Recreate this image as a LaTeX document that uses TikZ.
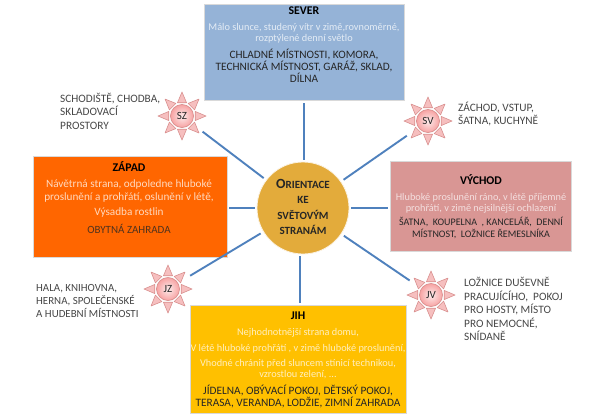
\documentclass[tikz,border=0pt]{standalone}
\usepackage{fontspec}
\setmainfont{Carlito}
\usetikzlibrary{calc}
\definecolor{conn}{HTML}{4F81BD}
\definecolor{raypink}{HTML}{F6BFBF}
\definecolor{rayline}{HTML}{D9908F}
\definecolor{sevfill}{HTML}{95B3D7}
\definecolor{zapfill}{HTML}{FF6600}
\definecolor{vycfill}{HTML}{D99694}
\definecolor{jihfill}{HTML}{FFC000}
\definecolor{cenfill}{HTML}{E3AB3B}
\definecolor{inktext}{HTML}{262626}
\tikzset{
  x=1pt,y=-1pt,
  dirbox/.style={rectangle,inner sep=0pt,draw=white!85!black,line width=.4pt,align=center,anchor=north west},
  sidelabel/.style={align=left,anchor=west,inner sep=0pt,text=inktext!85!white,font=\fontsize{11.3}{13.5}\selectfont},
  bodytext/.style={align=center,inner sep=0pt,font=\fontsize{10.3}{11}\selectfont},
  headtext/.style={align=center,inner sep=0pt,text=black,font=\fontsize{11.8}{12}\selectfont\bfseries},
  roomtext/.style={align=center,inner sep=0pt,text=inktext,font=\fontsize{11.3}{12}\selectfont},
  connector/.style={draw=conn,line width=1.9pt},
  sunray/.style={fill=raypink,draw=rayline,line width=.6pt,line join=round},
  suncore/.style={circle,minimum size=23pt,inner sep=0pt,draw=rayline,line width=.7pt,inner color=white!70!raypink,outer color=raypink!85!red,text=inktext,font=\fontsize{11}{12}\selectfont},
}
\newcommand{\sunat}[3]{%
  \foreach \a in {0,45,...,315}{\draw[sunray] ($(#2)+(\a-19:14)$) -- ($(#2)+(\a:24)$) -- ($(#2)+(\a+19:14)$) -- cycle;}
  \node[suncore] (#1) at (#2) {#3};}
\begin{document}
\begin{tikzpicture}
\path[use as bounding box,fill=white] (0,0) rectangle (600,416);
% boxes
\node[dirbox,fill=sevfill,minimum width=200pt,minimum height=96pt] (sever) at (204,4) {};
\node[dirbox,fill=zapfill,minimum width=194pt,minimum height=101pt] (zapad) at (33,156) {};
\node[dirbox,fill=vycfill,minimum width=181pt,minimum height=90pt] (vychod) at (390,161) {};
\node[dirbox,fill=jihfill,minimum width=216pt,minimum height=108pt] (jih) at (190,305) {};
% centre
\node[circle,minimum size=92pt,inner sep=0pt,fill=cenfill,draw=white!85!cenfill,line width=.8pt] (centre) at (303,208) {};
\node[align=center,inner sep=0pt,text=inktext,font=\fontsize{11}{15.6}\selectfont\bfseries] (centretext) at (303,207) {{\fontsize{14}{15.6}\selectfont O}RIENTACE\\KE\\SVĚTOVÝM\\STRANÁM};
% suns
\sunat{sz}{182,116}{SZ}
\sunat{sv}{428,121}{SV}
\sunat{jz}{168,289}{JZ}
\sunat{jv}{431,295}{JV}
% connectors
\draw[connector,shorten <=2pt,shorten >=3pt] (centre.north -| sever.south) -- (sever.south);
\draw[connector,shorten <=2pt,shorten >=2pt] (centre.west) -- (zapad.east |- centre.west);
\draw[connector,shorten <=2pt,shorten >=2pt] (centre.east) -- (vychod.west |- centre.east);
\draw[connector,shorten <=2pt,shorten >=2pt] ([xshift=2pt]centre.south -| jih.north) -- ([xshift=2pt]jih.north);
\draw[connector,shorten <=3pt,shorten >=14pt] (centre) -- (sz);
\draw[connector,shorten <=3pt,shorten >=14pt] (centre) -- (sv);
\draw[connector,shorten <=3pt,shorten >=14pt] (centre) -- (jz);
\draw[connector,shorten <=3pt,shorten >=14pt] (centre) -- (jv);
% SEVER text
\node[headtext] (t1) at (304,11) {SEVER};
\node[bodytext,text=white!75!sevfill] (t2) at (304,33.5) {Málo slunce, studený vítr v zimě,rovnoměrné,\\rozptýlené denní světlo};
\node[roomtext] (t3) at (304,66) {CHLADNÉ MÍSTNOSTI, KOMORA,\\TECHNICKÁ MÍSTNOST, GARÁŽ, SKLAD,\\DÍLNA};
% ZAPAD text
\node[headtext] (t4) at (129,167) {ZÁPAD};
\node[bodytext,text=white!75!zapfill,font=\fontsize{11.2}{12.3}\selectfont] (t5) at (129,191) {Návětrná strana, odpoledne hluboké\\proslunění a prohřátí, oslunění v létě,};
\node[bodytext,text=white!75!zapfill,font=\fontsize{11.2}{12.3}\selectfont] (t6) at (129,213) {Výsadba rostlin};
\node[roomtext,text=inktext!80!zapfill,font=\fontsize{11}{12}\selectfont] (t7) at (129,229) {OBYTNÁ ZAHRADA};
% VYCHOD text
\node[headtext] (t8) at (481,180) {VÝCHOD};
\node[bodytext,text=white!70!vycfill] (t9) at (481,203) {Hluboké proslunění ráno, v létě příjemné\\prohřátí, v zimě nejsilnější ochlazení};
\node[roomtext,font=\fontsize{10}{11.3}\selectfont] (t10) at (481,228) {ŠATNA,\ \ KOUPELNA \ , KANCELÁŘ,\ \ DENNÍ\\MÍSTNOST,\ \ LOŽNICE ŘEMESLNÍKA};
% JIH text
\node[headtext] (t11) at (298,316) {JIH};
\node[bodytext,text=white!75!jihfill] (t12) at (298,333) {Nejhodnotnější strana domu,};
\node[bodytext,text=white!75!jihfill] (t13) at (298,349) {V létě hluboké prohřátí , v zimě hluboké proslunění,};
\node[bodytext,text=white!75!jihfill] (t14) at (298,369) {Vhodné chránit před sluncem stínicí technikou,\\vzrostlou zelení, ...};
\node[roomtext] (t15) at (298,396) {JÍDELNA, OBÝVACÍ POKOJ, DĚTSKÝ POKOJ,\\TERASA, VERANDA, LODŽIE, ZIMNÍ ZAHRADA};
% side labels
\node[sidelabel] (l1) at (60,111) {SCHODIŠTĚ, CHODBA,\\SKLADOVACÍ\\PROSTORY};
\node[sidelabel] (l2) at (458,114) {ZÁCHOD, VSTUP,\\ŠATNA, KUCHYNĚ};
\node[sidelabel,font=\fontsize{10.9}{13}\selectfont] (l3) at (36,301) {HALA, KNIHOVNA,\\HERNA, SPOLEČENSKÉ\\A HUDEBNÍ MÍSTNOSTI};
\node[sidelabel] (l4) at (464,309) {LOŽNICE DUŠEVNĚ\\PRACUJÍCÍHO,\ \ POKOJ\\PRO HOSTY, MÍSTO\\PRO NEMOCNÉ,\\SNÍDANĚ};
\end{tikzpicture}
\end{document}
